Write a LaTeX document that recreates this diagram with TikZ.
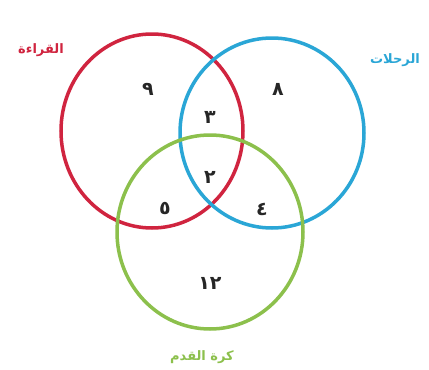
\documentclass[tikz,border=0pt]{standalone}
\usepackage{fontspec}
\TeXXeTstate=1
\newfontfamily\arabicfont[Script=Arabic]{DejaVu Sans}
\definecolor{cred}{HTML}{D0243F}
\definecolor{cblue}{HTML}{2AA6D6}
\definecolor{cgreen}{HTML}{8CC04C}
\tikzset{
  setring/.style={line width=3.5pt},
  num/.style={font=\arabicfont\bfseries\fontsize{19}{19}\selectfont, text=black!85},
  lbl/.style={font=\arabicfont\bfseries\fontsize{13}{13}\selectfont}
}
\begin{document}
\begin{tikzpicture}[x=1pt,y=-1pt]
\useasboundingbox[fill=white] (0,0) rectangle (429,370);
\draw[setring, cred] (152,131) ellipse [x radius=91, y radius=97];
\draw[setring, cblue] (272,133) ellipse [x radius=92, y radius=95];
\draw[setring, cgreen] (210,232) ellipse [x radius=93, y radius=97];
\node[num] (n9) at (148,89) {٩};
\node[num] (n8) at (278,89) {٨};
\node[num] (n3) at (210,117) {٣};
\node[num] (n2) at (210,177) {٢};
\node[num] (n5) at (165,208) {٥};
\node[num] (n4) at (262,209) {٤};
\node[num] (n12) at (210,283) {١٢};
\node[lbl, text=cred] (lr) at (41,50) {\beginR القراءة\endR};
\node[lbl, text=cblue] (lt) at (395,60) {\beginR الرحلات\endR};
\node[lbl, text=cgreen] (lf) at (202,357) {\beginR كرة القدم\endR};
\end{tikzpicture}
\end{document}
